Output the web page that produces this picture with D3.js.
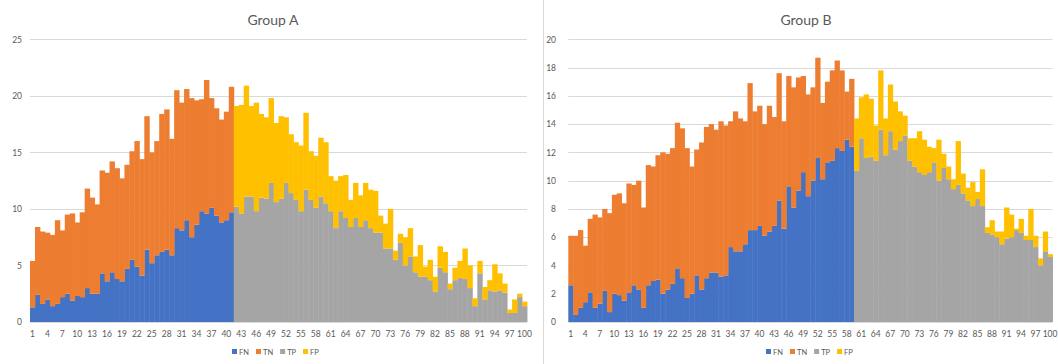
<!DOCTYPE html>
<html><head><meta charset="utf-8">
<script src="https://cdn.jsdelivr.net/npm/d3@7"></script>
<style>
body{margin:0;background:#fff;}
svg{display:block;font-family:Lato,"Open Sans",sans-serif;}
</style></head>
<body>
<svg id="chart" width="1058" height="364"></svg>
<script>
const categories = d3.range(1, 101);
const xTickLabels = [1,4,7,10,13,16,19,22,25,28,31,34,37,40,43,46,49,52,55,58,61,64,67,70,73,76,79,82,85,88,91,94,97,100];
const seriesNames = ["FN","TN","TP","FP"];
const seriesColors = ["#4472C4","#ED7D31","#A5A5A5","#FFC000"];

// Group A
const yTicksA = [0,5,10,15,20,25];
const A_FN = [1.3,2.4,1.6,2.0,1.4,1.6,2.2,2.5,1.9,2.3, 2.2,3.0,2.5,2.5,4.3,3.6,4.4,3.8,3.6,4.7, 5.5,4.9,4.1,6.4,5.2,5.9,6.2,6.4,5.9,8.3, 8.1,9.0,7.5,8.6,9.8,9.6,10.1,9.4,8.8,9.0, 9.7];
const A_TN = [4.1,6.0,6.4,5.9,6.3,7.4,5.9,7.0,7.7,6.5, 7.5,8.8,8.5,7.9,9.1,9.6,9.8,9.8,9.1,9.2, 9.6,11.1,10.3,11.8,9.8,10.1,12.2,12.4,10.3,12.2, 11.3,11.6,12.3,11.0,9.9,11.8,9.7,9.5,9.1,9.6, 11.1];
const A_TP = [10.2,9.6,11.1,11.1,9.8,11.0,10.9,12.3,10.6, 10.9,12.3,11.4,10.8,9.8,11.7,10.8,10.1,11.1,10.5, 9.8,8.3,9.8,9.2,8.4,9.2,8.4,9.0,8.3,7.9, 7.9,6.5,6.5,5.5,7.0,5.0,5.8,4.4,4.0,4.0, 3.7,2.7,4.8,4.4,2.9,3.7,3.9,3.8,3.0,1.4, 4.3,2.0,2.8,2.7,2.8,2.6,0.8,0.8,2.2,1.4];
const A_FP = [8.9,9.6,9.8,8.0,9.6,7.4,7.2,7.5,7.0, 7.3,5.8,5.2,5.1,5.8,6.8,4.3,4.6,5.2,5.4, 3.1,4.2,3.1,3.8,2.4,3.1,2.8,3.3,3.4,3.7, 1.5,2.2,3.5,0.8,0.8,2.5,2.5,1.4,2.8,0.9, 1.8,1.3,1.9,1.8,0.5,1.1,1.5,2.7,2.0,0.7, 1.1,1.1,0.9,2.4,1.5,0.8,0.3,1.2,0.3,0.4];

// Group B
const yTicksB = [0,2,4,6,8,10,12,14,16,18,20];
const B_FN = [2.6,0.5,1.0,1.4,2.1,1.0,1.3,2.2,0.7,2.0, 1.9,1.5,2.1,2.6,2.3,1.0,2.6,2.9,3.0,2.0, 2.3,2.7,3.8,3.1,1.7,2.0,3.3,2.3,3.1,3.5, 3.5,3.2,3.3,5.3,5.0,5.0,5.5,6.5,6.5,6.8, 6.1,6.4,6.8,8.6,6.6,9.6,8.1,9.3,10.6,8.9, 10.0,11.6,10.1,11.3,11.4,12.3,12.1,12.9,12.4];
const B_TN = [3.5,5.6,5.5,4.0,5.2,6.6,6.1,5.8,7.0,7.0, 7.2,6.9,7.7,7.1,7.7,7.1,8.5,8.1,8.8,10.0, 9.6,9.6,10.3,10.6,10.6,9.0,8.9,10.4,10.7,10.5, 10.1,11.0,10.6,8.9,9.9,9.4,8.7,10.4,8.4,8.5, 7.9,8.9,7.7,9.0,7.6,7.8,8.5,8.0,6.8,7.2, 6.6,7.1,5.4,5.7,6.4,6.2,5.7,3.4,4.8];
const B_TP = [10.7,13.0,11.6,11.7,11.4,13.6,11.8,13.5,12.2,12.8, 13.2,11.4,11.0,10.6,10.4,10.6,11.3,10.0,10.9,10.1, 9.4,9.7,9.1,8.6,8.2,8.7,8.2,6.3,6.2,6.0, 5.5,5.9,6.0,6.5,6.3,5.8,5.8,5.3,4.0,5.0, 4.6];
const B_FP = [3.7,2.9,4.5,4.1,2.5,4.2,2.6,3.3,3.4,2.1, 1.4,1.6,2.0,2.9,2.5,1.8,1.0,2.9,1.0,0.9, 0.7,3.1,1.4,0.9,1.7,0.5,2.6,0.4,1.0,0.4, 0.9,2.2,1.6,0.1,1.0,0.3,2.2,0.8,0.5,1.4, 0.2];

const svg = d3.select("#chart");
const textColor = "#595959";
const gridColor = "#d9d9d9";

function buildRows(fn, tn, tp, fp) {
  const off = categories.length - tp.length;
  return categories.map((c, i) => ({
    cat: c,
    FN: i < fn.length ? fn[i] : 0,
    TN: i < tn.length ? tn[i] : 0,
    TP: i >= off ? tp[i - off] : 0,
    FP: i >= off ? fp[i - off] : 0
  }));
}

function drawPanel(cfg) {
  const g = svg.append("g");
  const x = d3.scaleBand().domain(categories).range([cfg.x0, cfg.x1]).padding(0);
  const y = d3.scaleLinear().domain([0, cfg.yMax]).range([322, 39.3]);

  // gridlines
  g.append("g").selectAll("line").data(cfg.yTicks).join("line")
    .attr("x1", cfg.x0).attr("x2", cfg.x1)
    .attr("y1", d => Math.round(y(d)) + 0.5).attr("y2", d => Math.round(y(d)) + 0.5)
    .attr("stroke", gridColor).attr("stroke-width", 1);

  const rows = buildRows(cfg.fn, cfg.tn, cfg.tp, cfg.fp);
  const stacked = d3.stack().keys(seriesNames)(rows);
  g.append("g").selectAll("g").data(stacked).join("g")
    .attr("fill", (d, i) => seriesColors[i])
    .selectAll("rect").data(d => d.filter(p => p[1] - p[0] > 0)).join("rect")
    .attr("x", p => x(p.data.cat))
    .attr("width", x.bandwidth() + 0.45)
    .attr("y", p => y(p[1]))
    .attr("height", p => y(p[0]) - y(p[1]));

  // y axis labels
  const yAxis = d3.axisLeft(y).tickValues(cfg.yTicks).tickSize(0).tickPadding(0);
  const ya = g.append("g").attr("transform", `translate(${cfg.yLabelX},0)`).call(yAxis);
  ya.select(".domain").remove();
  ya.selectAll("text").attr("fill", textColor).style("font-size", "8.5px").style("font-family", "Lato, sans-serif");

  // x axis labels
  const xAxis = d3.axisBottom(x).tickValues(xTickLabels).tickSize(0).tickPadding(0);
  const xa = g.append("g").attr("transform", `translate(0,331)`).call(xAxis);
  xa.select(".domain").remove();
  xa.selectAll("text").attr("fill", textColor).style("font-size", "8.5px").style("font-family", "Lato, sans-serif");

  // title
  g.append("text").attr("x", cfg.titleX).attr("y", 25).attr("text-anchor", "middle")
    .attr("fill", textColor).style("font-size", "14px").text(cfg.title);

  // legend
  const lg = g.append("g").attr("transform", `translate(${cfg.legendX},352)`);
  let lx = 0;
  seriesNames.forEach((n, i) => {
    lg.append("rect").attr("x", lx).attr("y", -3).attr("width", 5).attr("height", 5).attr("fill", seriesColors[i]);
    const t = lg.append("text").attr("x", lx + 7).attr("y", 2.5).attr("fill", textColor)
      .style("font-size", "7.5px").text(n);
    lx += 7 + t.node().getComputedTextLength() + 7;
  });
}

drawPanel({x0: 30, x1: 527, yMax: 25, yTicks: yTicksA, yLabelX: 22, fn: A_FN, tn: A_TN, tp: A_TP, fp: A_FP, title: "Group A", titleX: 273, legendX: 232});
drawPanel({x0: 568.3, x1: 1052.5, yMax: 20, yTicks: yTicksB, yLabelX: 556, fn: B_FN, tn: B_TN, tp: B_TP, fp: B_FP, title: "Group B", titleX: 806, legendX: 766});

// panel separator
svg.append("line").attr("x1", 543.5).attr("x2", 543.5).attr("y1", 0).attr("y2", 364)
  .attr("stroke", "#d9d9d9").attr("stroke-width", 1);
</script>
</body></html>
